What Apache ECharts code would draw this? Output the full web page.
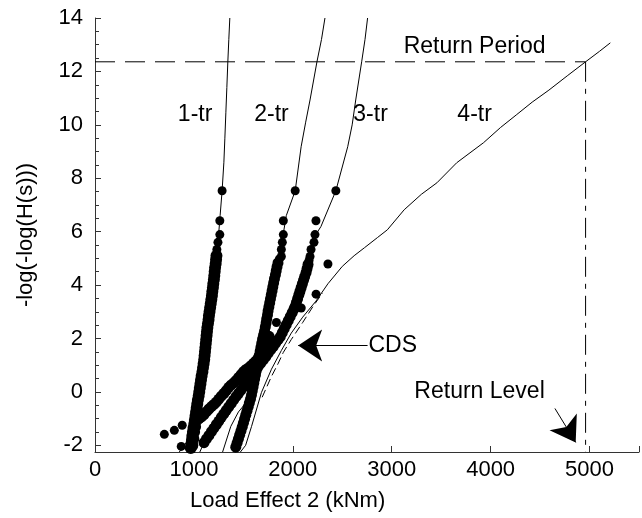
<!DOCTYPE html>
<html>
<head>
<meta charset="utf-8">
<script src="https://cdn.jsdelivr.net/npm/echarts@6/dist/echarts.min.js"></script>
<style>
  html, body { margin: 0; padding: 0; background: #fff; }
  #main { width: 642px; height: 518px; }
</style>
</head>
<body>
<div id="main"></div>
<script>
// dots, [load effect kNm, -log(-log(H))]
// dense part of each band
const trial1Band = [
  [968,-2.1],[974,-1.95],[980,-1.8],[984,-1.65],[990,-1.5],[996,-1.35],[1004,-1.2],[1010,-1.05],
  [1016,-0.9],[1022,-0.75],[1028,-0.6],[1034,-0.45],[1040,-0.3],[1048,-0.15],[1054,0],[1060,0.15],
  [1066,0.3],[1072,0.45],[1078,0.6],[1086,0.75],[1092,0.9],[1098,1.05],[1104,1.2],[1108,1.35],
  [1112,1.5],[1116,1.65],[1120,1.8],[1124,1.95],[1128,2.1],[1132,2.25],[1136,2.4],[1142,2.55],
  [1148,2.7],[1152,2.85],[1158,3.0],[1164,3.15],[1170,3.3],[1176,3.45],[1182,3.6],[1186,3.75],
  [1192,3.9],[1196,4.05],[1202,4.2],[1206,4.35],[1210,4.5],[1214,4.65],[1220,4.8],[1224,4.95],
  [1228,5.1],[984,-2.0],[994,-1.75],[1002,-1.5],[1012,-1.3]
];
const trial1Tail = [[1232,5.33],[1243,5.6],[1262,5.89],[1262,6.41],[1285,7.53]];
const trial2Band = [
  [1423,-2.07],[1436,-1.92],[1449,-1.77],[1462,-1.62],[1475,-1.47],[1488,-1.32],[1500,-1.17],
  [1512,-1.02],[1524,-0.87],[1536,-0.72],[1548,-0.57],[1560,-0.42],[1572,-0.27],[1582,-0.12],
  [1590,0.03],[1598,0.18],[1606,0.33],[1614,0.48],[1622,0.63],[1630,0.78],[1638,0.93],[1646,1.08],
  [1654,1.23],[1662,1.38],[1670,1.53],[1678,1.68],[1686,1.83],[1694,1.98],[1704,2.13],[1714,2.28],
  [1722,2.43],[1730,2.58],[1736,2.73],[1744,2.88],[1750,3.03],[1758,3.18],[1766,3.33],[1774,3.48],
  [1782,3.63],[1790,3.78],[1798,3.93],[1806,4.08],[1814,4.23],[1824,4.38],[1832,4.53],[1840,4.68],
  [1850,4.83]
];
const trial2Tail = [[1864,4.98],[1884,5.07],[1884,5.33],[1894,5.6],[1904,5.89],[1904,6.41],[2024,7.53]];
const trial3Band = [
  [1102,-1.9],[1127,-1.76],[1152,-1.63],[1177,-1.49],[1202,-1.36],[1227,-1.22],[1252,-1.09],
  [1277,-0.95],[1302,-0.82],[1327,-0.69],[1352,-0.56],[1377,-0.43],[1402,-0.3],[1427,-0.17],
  [1452,-0.05],[1477,0.07],[1502,0.2],[1527,0.33],[1552,0.45],[1577,0.58],[1602,0.71],[1627,0.83],
  [1652,0.96],[1677,1.08],[1702,1.2],[1727,1.32],[1752,1.45],[1777,1.58],[1802,1.7],[1827,1.83],
  [1852,1.96],[1874,2.07],[1894,2.22],[1914,2.37],[1934,2.52],[1954,2.67],[1974,2.82],[1994,2.97],
  [2012,3.1],[2024,3.2],[2036,3.34],[2048,3.48],[2060,3.62],[2072,3.76],[2084,3.9],[2096,4.04],
  [2108,4.18],[2120,4.32],[2134,4.47],[2144,4.62],[2154,4.77]
];
const trial3Tail = [[2164,4.92],[2174,5.07],[2184,5.33],[2214,5.6],[2224,5.89],[2234,6.41],[2435,7.53]];
const trial4Band = [
  [1052,-1.0],[1077,-0.93],[1102,-0.85],[1127,-0.74],[1152,-0.64],[1177,-0.55],[1202,-0.47],
  [1227,-0.38],[1252,-0.27],[1277,-0.16],[1302,-0.06],[1327,0.05],[1352,0.17],[1377,0.26],
  [1402,0.34],[1427,0.43],[1452,0.54],[1477,0.65],[1502,0.76],[1527,0.84],[1552,0.9],[1577,0.98],
  [1602,1.07],[1627,1.16],[1652,1.28],[1677,1.42],[1700,1.56],[1720,1.72],[1740,1.9],[1760,2.08]
];
const loosePts = [
  [1834,2.6],[701,-1.59],[802,-1.44],[882,-1.25],[872,-2.04],
  [2085,3.14],[2235,3.66],[2355,4.79]
];

// fitted curves
const fit1 = [[960,-2.25],[1000,-1.0],[1052,0.0],[1102,1.2],[1140,2.5],[1182,3.6],[1222,4.85],
  [1250,5.9],[1265,6.6],[1285,7.53],[1303,8.6],[1313,9.5],[1323,10.45],[1333,11.4],[1343,12.36],
  [1353,13.2],[1363,14]];
const fit2 = [[1290,-2.25],[1373,-1.29],[1450,-0.75],[1540,-0.35],[1600,0.2],[1653,1.1],[1723,2.34],
  [1784,3.57],[1854,4.84],[1904,5.93],[1934,6.6],[2024,7.53],[2084,9.18],[2130,10.1],[2174,10.93],
  [2244,12.36],[2290,13.2],[2325,14]];
const fit3 = [[1060,-2.25],[1102,-1.9],[1283,-0.92],[1483,0.09],[1683,1.1],[1874,2.07],[2010,3.2],
  [2134,4.47],[2200,5.3],[2234,5.9],[2284,6.19],[2435,7.53],[2555,9.18],[2600,10.0],[2636,10.93],
  [2696,12.36],[2730,13.2],[2756,14]];
const fit4 = [[1470,-2.25],[1523,-2.0],[1583,-1.29],[1683,-0.02],[1784,0.85],[1884,1.55],[1984,2.2],
  [2100,2.8],[2234,3.4],[2355,4.05],[2500,4.7],[2620,5.1],[2725,5.4],[2856,5.78],[2956,6.07],
  [3126,6.82],[3300,7.4],[3457,7.83],[3657,8.58],[3928,9.33],[4100,9.9],[4259,10.37],[4420,10.85],
  [4589,11.3],[4780,11.85],[4960,12.36],[5100,12.75],[5210,13.07]];
const fitLow = [[852,-2.25],[980,-1.62],[1102,-1.03],[1250,-0.3],[1400,0.35],[1550,0.9],[1653,1.3]];
const cdsCurve = [[1690,-0.2],[1784,0.58],[1850,1.05],[1904,1.48],[1984,1.96],[2100,2.6],[2204,3.2],[2300,3.7]];

const returnPeriodY = 12.36;
const returnLevelX = 4960;
const yBottom = -2.25;

const textLabels = [
  { name: '1-tr', value: [1012, 10.37] },
  { name: '2-tr', value: [1784, 10.37] },
  { name: '3-tr', value: [2786, 10.37] },
  { name: '4-tr', value: [3838, 10.37] },
  { name: 'Return Period', value: [3838, 12.92] },
  { name: 'Return Level', value: [3888, 0.02] },
  { name: 'CDS', value: [3010, 1.74] }
];
const arrowCDS = [[2756, 1.74], [2054, 1.74]];
const arrowLevel = [[4650, -0.62], [4860, -1.89]];

const FONT = 'Liberation Sans, Arial, sans-serif';
const chart = echarts.init(document.getElementById('main'));

const dotSeries = (pts, size) => ({
  type: 'scatter', data: pts, symbol: 'circle', symbolSize: size,
  itemStyle: { color: '#000', opacity: 1 }, z: 5, silent: true
});
const lineSeries = (pts, dash) => ({
  type: 'line', data: pts, showSymbol: false, symbol: 'none', smooth: false,
  lineStyle: { color: '#000', width: 1, type: dash || 'solid' }, z: 3, silent: true
});

chart.setOption({
  animation: false,
  backgroundColor: '#fff',
  title: {
    text: 'Load Effect 2 (kNm)', left: 190, top: 490, padding: 0,
    textStyle: { fontSize: 22, fontWeight: 'normal', color: '#000', fontFamily: FONT }
  },
  grid: { left: 95, right: -2, top: 18, bottom: 66 },
  xAxis: {
    type: 'value', min: 0, max: 5500, interval: 1000,
    axisLine: { onZero: false, lineStyle: { color: '#333', width: 1 } },
    axisTick: { inside: true, length: 6, lineStyle: { color: '#333' } },
    axisLabel: { margin: 7, fontSize: 22, color: '#000', fontFamily: FONT,
      formatter: v => (v % 1000 === 0 ? String(v) : '') },
    splitLine: { show: false }
  },
  yAxis: {
    type: 'value', min: yBottom, max: 14, splitNumber: 8,
    name: '-log(-log(H(s)))', nameLocation: 'middle', nameGap: 58, nameRotate: 90,
    nameTextStyle: { fontSize: 22, color: '#000', fontFamily: FONT },
    axisLine: { onZero: false, lineStyle: { color: '#333', width: 1 } },
    axisTick: { inside: true, length: 6, lineStyle: { color: '#333' } },
    minorTick: { show: true, splitNumber: 4, length: 4, lineStyle: { color: '#333' } },
    axisLabel: { margin: 12, fontSize: 22, color: '#000', fontFamily: FONT,
      formatter: v => (Math.abs(v % 2) < 1e-9 ? String(v) : '') },
    splitLine: { show: false }
  },
  series: [
    lineSeries(fitLow),
    lineSeries(fit1),
    lineSeries(fit2),
    lineSeries(fit3),
    lineSeries(fit4),
    lineSeries(cdsCurve, [8, 4]),
    lineSeries([[0, returnPeriodY], [returnLevelX, returnPeriodY]], [20, 10]),
    lineSeries([[returnLevelX, returnPeriodY], [returnLevelX, yBottom]], [20, 7, 5, 7]),
    dotSeries(trial1Band, 12),
    dotSeries(trial2Band, 11),
    dotSeries(trial3Band, 11),
    dotSeries(trial4Band, 11),
    dotSeries(trial1Tail, 9),
    dotSeries(trial2Tail, 9),
    dotSeries(trial3Tail, 9),
    dotSeries(loosePts, 9),
    {
      type: 'lines', coordinateSystem: 'cartesian2d', silent: true, z: 6,
      symbol: ['none', 'arrow'], symbolSize: [0, 24],
      lineStyle: { color: '#000', width: 1, opacity: 1 },
      data: [{ coords: arrowCDS }, { coords: arrowLevel }]
    },
    {
      type: 'scatter', symbolSize: 0, silent: true, z: 7,
      itemStyle: { opacity: 1 },
      data: textLabels,
      label: { show: true, position: 'inside', formatter: '{b}', fontSize: 23,
        color: '#000', fontFamily: FONT }
    }
  ]
});
</script>
</body>
</html>
